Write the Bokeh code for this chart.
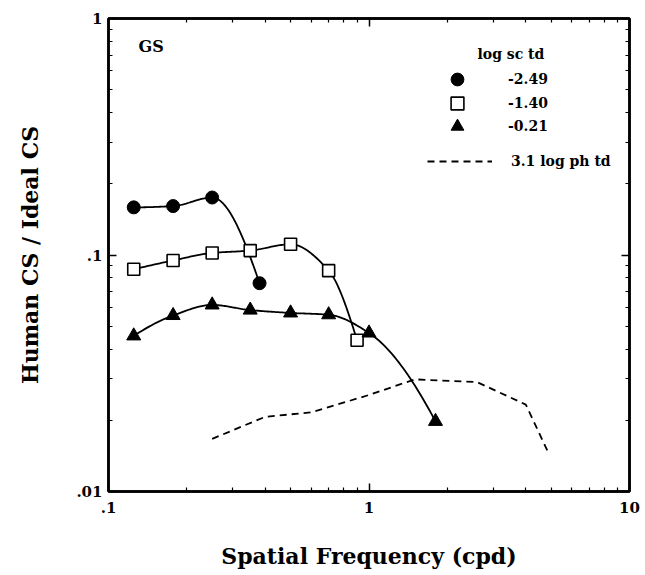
import numpy as np
from bokeh.plotting import figure
from bokeh.models import (FixedTicker, LogAxis, CustomJSTickFormatter, Label,
                          Legend, LegendItem, Range1d)
from bokeh.embed import file_html
from bokeh.resources import INLINE

# ---- data ----
circ_x = [0.125, 0.177, 0.25, 0.38]
circ_y = [0.159, 0.161, 0.175, 0.076]
sq_x = [0.125, 0.177, 0.25, 0.35, 0.5, 0.7, 0.9]
sq_y = [0.087, 0.0948, 0.102, 0.1044, 0.111, 0.0859, 0.0436]
tri_x = [0.125, 0.177, 0.25, 0.35, 0.5, 0.7, 1.0, 1.8]
tri_y = [0.0455, 0.0555, 0.0615, 0.0585, 0.0569, 0.0559, 0.0468, 0.0198]
ph_x = [0.25, 0.4, 0.6, 1.0, 1.5, 2.6, 4.0, 4.85]
ph_y = [0.0167, 0.0207, 0.0216, 0.0256, 0.0298, 0.029, 0.0233, 0.0148]
series_labels = ["-2.49", "-1.40", "-0.21"]
ph_label = "3.1 log ph td"
legend_title = "log sc td"
panel_label = "GS"
x_ticks = [0.1, 1, 10]
y_ticks = [0.01, 0.1, 1]

FONT = "DejaVu Serif"


def smooth(xs, ys, n=30):
    """Monotone cubic (PCHIP) curve through the points, in log-log space."""
    x = np.log10(np.asarray(xs, float))
    y = np.log10(np.asarray(ys, float))
    h = np.diff(x)
    d = np.diff(y) / h
    m = np.zeros_like(x)
    for k in range(1, len(x) - 1):
        if d[k - 1] * d[k] > 0:
            w1 = 2 * h[k] + h[k - 1]
            w2 = h[k] + 2 * h[k - 1]
            m[k] = (w1 + w2) / (w1 / d[k - 1] + w2 / d[k])

    def end(h0, h1, d0, d1):
        v = ((2 * h0 + h1) * d0 - h0 * d1) / (h0 + h1)
        if np.sign(v) != np.sign(d0):
            v = 0.0
        elif np.sign(d0) != np.sign(d1) and abs(v) > abs(3 * d0):
            v = 3 * d0
        return v

    m[0] = end(h[0], h[1], d[0], d[1])
    m[-1] = end(h[-1], h[-2], d[-1], d[-2])
    ox, oy = [], []
    for k in range(len(x) - 1):
        t = np.linspace(0, 1, n, endpoint=(k == len(x) - 2))
        h00 = 2 * t**3 - 3 * t**2 + 1
        h10 = t**3 - 2 * t**2 + t
        h01 = -2 * t**3 + 3 * t**2
        h11 = t**3 - t**2
        yy = h00 * y[k] + h10 * h[k] * m[k] + h01 * y[k + 1] + h11 * h[k] * m[k + 1]
        ox.extend(x[k] + t * h[k])
        oy.extend(yy)
    return list(10 ** np.array(ox)), list(10 ** np.array(oy))


p = figure(width=645, height=575, x_axis_type="log", y_axis_type="log",
           x_range=Range1d(0.1, 10), y_range=Range1d(0.01, 1),
           output_backend="svg", toolbar_location=None,
           min_border_left=108, min_border_right=16,
           min_border_top=18, min_border_bottom=84,
           background_fill_color="white", border_fill_color="white")
p.xgrid.visible = False
p.ygrid.visible = False
p.outline_line_color = "black"
p.outline_line_width = 2.5


def minors(majors):
    out = []
    for mj in majors[:-1]:
        out.extend([mj * k for k in range(2, 10)])
    return out


fmt = CustomJSTickFormatter(code="""
    const s = String(parseFloat(tick.toPrecision(6)));
    return s.startsWith("0.") ? s.slice(1) : s;
""")
blank_fmt = CustomJSTickFormatter(code='return "";')

xt = FixedTicker(ticks=x_ticks, minor_ticks=minors(x_ticks))
yt = FixedTicker(ticks=y_ticks, minor_ticks=minors(y_ticks))


def style_axis(ax, show_labels=True):
    ax.axis_line_width = 2.5
    ax.axis_line_color = "black"
    ax.major_tick_in = 8
    ax.major_tick_out = 0
    ax.minor_tick_in = 4
    ax.minor_tick_out = 0
    ax.major_tick_line_width = 1.5
    ax.minor_tick_line_width = 1.2
    ax.major_label_text_font = FONT
    ax.major_label_text_font_style = "bold"
    ax.major_label_text_font_size = "15px"
    ax.major_label_text_color = "black"
    ax.formatter = fmt if show_labels else blank_fmt
    ax.axis_label_text_font = FONT
    ax.axis_label_text_font_style = "bold"
    ax.axis_label_text_font_size = "22px"
    ax.axis_label_text_color = "black"


xa = p.xaxis[0]
xa.ticker = xt
style_axis(xa)
xa.major_label_standoff = 10
xa.axis_label = "Spatial Frequency (cpd)"
xa.axis_label_standoff = 27

ya = p.yaxis[0]
ya.ticker = yt
style_axis(ya)
ya.major_label_standoff = 6
ya.axis_label = "Human CS / Ideal CS"
ya.axis_label_standoff = 30

top = LogAxis(ticker=xt)
style_axis(top, show_labels=False)
top.major_label_standoff = 0
p.add_layout(top, "above")
right = LogAxis(ticker=yt)
style_axis(right, show_labels=False)
right.major_label_standoff = 0
p.add_layout(right, "right")

# ---- curves ----
for xs, ys in [(circ_x, circ_y), (sq_x, sq_y), (tri_x, tri_y)]:
    cx, cy = smooth(xs, ys)
    p.line(cx, cy, line_color="black", line_width=1.8)

r_ph = p.line(ph_x, ph_y, line_color="black", line_width=1.8, line_dash="7 5")

r_circ = p.scatter(circ_x, circ_y, marker="circle", size=13,
                   fill_color="black", line_color="black")
r_sq = p.scatter(sq_x, sq_y, marker="square", size=12,
                 fill_color="white", line_color="black", line_width=1.6)
r_tri = p.scatter(tri_x, tri_y, marker="triangle", size=14,
                  fill_color="black", line_color="black")


def add_legend(label, rend, loc, gw, gh, standoff):
    leg = Legend(items=[LegendItem(label=label, renderers=[rend])],
                 location=loc, orientation="vertical",
                 border_line_color=None, background_fill_alpha=0,
                 padding=0, margin=0, spacing=0,
                 glyph_width=gw, glyph_height=gh, label_height=gh,
                 label_standoff=standoff,
                 label_text_font=FONT, label_text_font_style="bold",
                 label_text_font_size="14px", label_text_color="black",
                 label_text_baseline="middle")
    p.add_layout(leg, "center")


# legend locations: (left, bottom) in px from the frame's lower-left corner
add_legend(series_labels[0], r_circ, (333, 396), 32, 32, 35)
add_legend(series_labels[1], r_sq, (333, 372), 32, 32, 35)
add_legend(series_labels[2], r_tri, (333, 349), 32, 32, 35)
add_legend(ph_label, r_ph, (319, 320), 65, 20, 19)

p.add_layout(Label(x=369, y=438, x_units="screen", y_units="screen",
                   text=legend_title, text_font=FONT, text_font_style="bold",
                   text_font_size="14px", text_baseline="middle",
                   text_color="black"))
p.add_layout(Label(x=30, y=445, x_units="screen", y_units="screen",
                   text=panel_label, text_font=FONT, text_font_style="bold",
                   text_font_size="16px", text_baseline="middle",
                   text_color="black"))

open("out.html", "w").write(file_html(p, INLINE))
